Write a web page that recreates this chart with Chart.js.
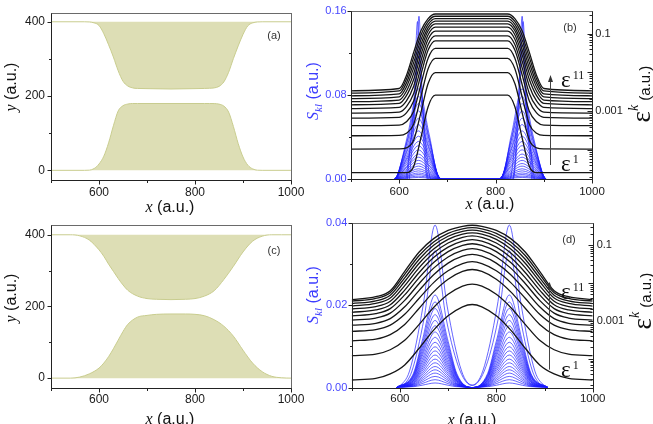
<!DOCTYPE html>
<html><head><meta charset="utf-8">
<script src="https://cdn.jsdelivr.net/npm/chart.js@4.4.1/dist/chart.umd.min.js"></script>
<style>
html,body{margin:0;padding:0;background:#fff;width:653px;height:424px;overflow:hidden;position:relative;}
canvas{position:absolute;}
.lbl{position:absolute;white-space:nowrap;line-height:1;font-family:"Liberation Sans",Arial,sans-serif;color:#111;transform:translate(-50%,-50%);}
.rot{transform:translate(-50%,-50%) rotate(-90deg);}
.it{font-family:"Liberation Serif","Times New Roman",serif;font-style:italic;}
.ser{font-family:"Liberation Serif","Times New Roman",serif;}
.eps{position:absolute;white-space:nowrap;line-height:1;font-family:"Liberation Serif","Times New Roman",serif;font-size:23px;color:#111;}
.eps .sp{position:relative;top:-8px;font-size:12px;margin-left:2px;}
.pl{font-size:11px;color:#333;}
</style></head><body>
<canvas id="ca" width="320" height="212" style="left:0;top:0"></canvas>
<canvas id="cb" width="333" height="212" style="left:320px;top:0"></canvas>
<canvas id="cc" width="320" height="212" style="left:0;top:212px"></canvas>
<canvas id="cd" width="333" height="212" style="left:320px;top:212px"></canvas>

<div class="lbl rot" style="left:11px;top:87px;font-size:16px"><span class="it">y</span> (a.u.)</div>
<div class="lbl rot" style="left:11px;top:298px;font-size:16px"><span class="it">y</span> (a.u.)</div>
<div class="lbl" style="left:170px;top:207px;font-size:16px"><span class="it">x</span> (a.u.)</div>
<div class="lbl" style="left:490px;top:204px;font-size:16px"><span class="it">x</span> (a.u.)</div>
<div class="lbl" style="left:170px;top:419px;font-size:16px"><span class="it">x</span> (a.u.)</div>
<div class="lbl" style="left:472px;top:420px;font-size:16px"><span class="it">x</span> (a.u.)</div>
<div class="lbl rot" style="left:313px;top:91px;font-size:16px;color:#3c3cff"><span class="it">S</span><span class="it" style="font-size:11px;position:relative;top:4px">kl</span> (a.u.)</div>
<div class="lbl rot" style="left:313px;top:295px;font-size:16px;color:#3c3cff"><span class="it">S</span><span class="it" style="font-size:11px;position:relative;top:4px">kl</span> (a.u.)</div>
<div class="lbl rot" style="left:641px;top:94px;font-size:15px"><span class="ser" style="font-size:27px">ε</span><span class="it" style="font-size:14px;position:relative;top:-12px">k</span> (a.u.)</div>
<div class="lbl rot" style="left:642px;top:301px;font-size:15px"><span class="ser" style="font-size:27px">ε</span><span class="it" style="font-size:14px;position:relative;top:-12px">k</span> (a.u.)</div>
<div class="lbl pl" style="left:274px;top:35px">(a)</div>
<div class="lbl pl" style="left:570px;top:27px">(b)</div>
<div class="lbl pl" style="left:274px;top:250px">(c)</div>
<div class="lbl pl" style="left:569px;top:239px">(d)</div>
<div class="eps" style="left:561px;top:68px">ε<span class="sp">11</span></div>
<div class="eps" style="left:561px;top:152px">ε<span class="sp">1</span></div>
<div class="eps" style="left:561px;top:280px">ε<span class="sp">11</span></div>
<div class="eps" style="left:561px;top:358px">ε<span class="sp">1</span></div>

<script>
// ---------- tick values ----------
const X_MAJOR = [600, 800, 1000];
const X_MINOR = [500, 700, 900];
const Y_CH_MAJOR = [0, 200, 400];
const Y_CH_MINOR = [100, 300];
const S_B_MAJOR = [0, 0.08, 0.16];
const S_B_MINOR = [0.04, 0.12];
const S_D_MAJOR = [0, 0.02, 0.04];
const S_D_MINOR = [0.01, 0.03];
const EPS_LABELED = [0.001, 0.1];

// ---------- channel geometry (a) ----------
const chanA_x = [500,570,580,590,600,610,620,630,640,650,660,670,680,700,750,800,820,830,840,850,860,870,880,890,900,910,920,930,940,1000];
const chanA_upper = [400,400,399.5,397,390,368,338,305,268,240,227,222,220.5,220,219,220,220.5,221,222,226,238,264,301,335,366,389,397,399.5,400,400];
const chanA_lower = [0,0,0.5,5,17,38,74,120,160,174,178.5,180,180,180,180,180,180,180,179.8,178.3,173,157,118,72,36,14,4,0.4,0,0];

// ---------- channel geometry (c) ----------
const chanC_x = [500,540,560,580,600,610,620,630,640,650,660,680,700,720,750,780,800,820,840,860,880,900,920,940,960,980,1000];
const chanC_upper = [400,400,397,385,358,340,318,298,278,260,245,229,222,220,219,220,222,229,244,275,312,352,382,396,400,400,400];
const chanC_lower = [0,0,3,12,28,42,60,82,106,130,150,170,175,178,179,179,178,174,163,145,117,78,42,18,5,1,0];

// ---------- eps^k curves (b), log10 values ----------
const epsB_x = [500,600,615,630,645,660,675,825,840,855,870,885,900,1000];
const epsB_log10 = [
[-2.476,-2.417,-2.080,-1.487,-0.932,-0.616,-0.497,-0.497,-0.616,-0.932,-1.487,-2.080,-2.417,-2.476],
[-2.535,-2.481,-2.173,-1.615,-1.046,-0.690,-0.556,-0.556,-0.690,-1.046,-1.615,-2.173,-2.481,-2.535],
[-2.605,-2.555,-2.273,-1.751,-1.164,-0.767,-0.618,-0.618,-0.767,-1.164,-1.751,-2.273,-2.555,-2.605],
[-2.677,-2.632,-2.378,-1.889,-1.286,-0.848,-0.683,-0.683,-0.848,-1.286,-1.889,-2.378,-2.632,-2.677],
[-2.755,-2.715,-2.488,-2.033,-1.412,-0.930,-0.750,-0.750,-0.930,-1.412,-2.033,-2.488,-2.715,-2.755],
[-2.837,-2.802,-2.603,-2.187,-1.552,-1.032,-0.837,-0.837,-1.032,-1.552,-2.187,-2.603,-2.802,-2.837],
[-2.935,-2.905,-2.736,-2.357,-1.709,-1.150,-0.941,-0.941,-1.150,-1.709,-2.357,-2.736,-2.905,-2.935],
[-3.052,-3.027,-2.886,-2.544,-1.881,-1.283,-1.059,-1.059,-1.283,-1.881,-2.544,-2.886,-3.027,-3.052],
[-3.180,-3.160,-3.047,-2.742,-2.064,-1.427,-1.188,-1.188,-1.427,-2.064,-2.742,-3.047,-3.160,-3.180],
[-3.374,-3.359,-3.274,-3.005,-2.313,-1.636,-1.382,-1.382,-1.636,-2.313,-3.005,-3.274,-3.359,-3.374],
[-3.635,-3.625,-3.569,-3.336,-2.628,-1.909,-1.640,-1.640,-1.909,-2.628,-3.336,-3.569,-3.625,-3.635],
[-3.980,-3.975,-3.946,-3.753,-3.037,-2.287,-2.006,-2.006,-2.287,-3.037,-3.753,-3.946,-3.975,-3.980],
[-4.587,-4.587,-4.587,-4.427,-3.687,-2.887,-2.590,-2.590,-2.887,-3.687,-4.427,-4.587,-4.587,-4.587]
];

// ---------- eps^k curves (d), log10 values ----------
const epsD_x = [500,550,580,610,640,670,700,730,750,770,800,830,860,890,920,950,1000];
const epsD_log10 = [
[-2.441,-2.363,-2.206,-1.695,-1.185,-0.832,-0.616,-0.508,-0.479,-0.508,-0.616,-0.832,-1.185,-1.695,-2.206,-2.363,-2.441],
[-2.482,-2.408,-2.256,-1.775,-1.277,-0.919,-0.693,-0.575,-0.544,-0.575,-0.693,-0.919,-1.277,-1.775,-2.256,-2.408,-2.482],
[-2.544,-2.473,-2.325,-1.866,-1.376,-1.008,-0.769,-0.642,-0.608,-0.642,-0.769,-1.008,-1.376,-1.866,-2.325,-2.473,-2.544],
[-2.610,-2.542,-2.398,-1.963,-1.480,-1.104,-0.853,-0.715,-0.679,-0.715,-0.853,-1.104,-1.480,-1.963,-2.398,-2.542,-2.610],
[-2.687,-2.623,-2.482,-2.071,-1.596,-1.211,-0.948,-0.801,-0.762,-0.801,-0.948,-1.211,-1.596,-2.071,-2.482,-2.623,-2.687],
[-2.774,-2.713,-2.576,-2.190,-1.724,-1.331,-1.057,-0.900,-0.859,-0.900,-1.057,-1.331,-1.724,-2.190,-2.576,-2.713,-2.774],
[-2.867,-2.810,-2.677,-2.316,-1.860,-1.461,-1.176,-1.010,-0.967,-1.010,-1.176,-1.461,-1.860,-2.316,-2.677,-2.810,-2.867],
[-2.979,-2.926,-2.797,-2.461,-2.015,-1.610,-1.315,-1.140,-1.095,-1.140,-1.315,-1.610,-2.015,-2.461,-2.797,-2.926,-2.979],
[-3.115,-3.065,-2.941,-2.630,-2.195,-1.784,-1.479,-1.296,-1.249,-1.296,-1.479,-1.784,-2.195,-2.630,-2.941,-3.065,-3.115],
[-3.277,-3.231,-3.112,-2.827,-2.405,-1.992,-1.680,-1.489,-1.441,-1.489,-1.680,-1.992,-2.405,-2.827,-3.112,-3.231,-3.277],
[-3.526,-3.482,-3.363,-3.094,-2.667,-2.235,-1.903,-1.698,-1.646,-1.698,-1.903,-2.235,-2.667,-3.094,-3.363,-3.482,-3.526],
[-3.918,-3.877,-3.761,-3.512,-3.091,-2.648,-2.301,-2.085,-2.031,-2.085,-2.301,-2.648,-3.091,-3.512,-3.761,-3.877,-3.918],
[-4.559,-4.519,-4.400,-4.161,-3.723,-3.246,-2.868,-2.629,-2.569,-2.629,-2.868,-3.246,-3.723,-4.161,-4.400,-4.519,-4.559]
];

// ---------- S_kl curves (b) : [x, S] ----------
const skB = [
[[621,0],[634,.078],[641,.155],[648,.078],[661,0],[835,0],[848,.078],[855,.155],[862,.078],[875,0]],
[[617,0],[630.5,.075],[638,.150],[645.5,.075],[659,0],[836,0],[849.5,.075],[857,.150],[864.5,.075],[878,0]],
[[614,0],[630,.061],[640,.122],[650,.061],[666,0],[829,0],[845,.061],[855,.122],[865,.061],[881,0]],
[[596,0],[618,.043],[640,.086],[662,.043],[684,0],[811,0],[833,.043],[855,.086],[877,.043],[899,0]],
[[595,0],[618,.0395],[640,.079],[662,.0395],[685,0],[810,0],[833,.0395],[855,.079],[877,.0395],[900,0]],
[[594,0],[617,.036],[640,.072],[663,.036],[686,0],[809,0],[832,.036],[855,.072],[878,.036],[901,0]],
[[594,0],[617,.0325],[640,.065],[663,.0325],[686,0],[809,0],[832,.0325],[855,.065],[878,.0325],[901,0]],
[[593,0],[617,.029],[640,.058],[663,.029],[687,0],[808,0],[832,.029],[855,.058],[878,.029],[902,0]],
[[593,0],[616,.026],[640,.052],[664,.026],[687,0],[808,0],[831,.026],[855,.052],[879,.026],[902,0]],
[[592,0],[616,.023],[640,.046],[664,.023],[688,0],[807,0],[831,.023],[855,.046],[879,.023],[903,0]],
[[592,0],[616,.0205],[640,.041],[664,.0205],[688,0],[807,0],[831,.0205],[855,.041],[879,.0205],[903,0]],
[[591,0],[615,.018],[640,.036],[665,.018],[689,0],[806,0],[830,.018],[855,.036],[880,.018],[904,0]],
[[591,0],[615,.016],[640,.032],[665,.016],[689,0],[806,0],[830,.016],[855,.032],[880,.016],[904,0]],
[[590,0],[615,.014],[640,.028],[665,.014],[690,0],[805,0],[830,.014],[855,.028],[880,.014],[905,0]],
[[590,0],[615,.012],[640,.024],[665,.012],[690,0],[805,0],[830,.012],[855,.024],[880,.012],[905,0]],
[[590,0],[614,.0105],[640,.021],[666,.0105],[690,0],[805,0],[829,.0105],[855,.021],[881,.0105],[905,0]],
[[590,0],[614,.009],[640,.018],[666,.009],[690,0],[805,0],[829,.009],[855,.018],[881,.009],[905,0]],
[[590,0],[614,.0075],[640,.015],[666,.0075],[690,0],[805,0],[829,.0075],[855,.015],[881,.0075],[905,0]],
[[590,0],[614,.00625],[640,.0125],[666,.00625],[690,0],[805,0],[829,.00625],[855,.0125],[881,.00625],[905,0]],
[[590,0],[614,.005],[640,.010],[666,.005],[690,0],[805,0],[829,.005],[855,.010],[881,.005],[905,0]],
[[590,0],[614,.004],[640,.008],[666,.004],[690,0],[805,0],[829,.004],[855,.008],[881,.004],[905,0]],
[[590,0],[614,.003],[640,.006],[666,.003],[690,0],[805,0],[829,.003],[855,.006],[881,.003],[905,0]],
[[590,0],[614,.00225],[640,.0045],[666,.00225],[690,0],[805,0],[829,.00225],[855,.0045],[881,.00225],[905,0]],
[[590,0],[614,.0015],[640,.003],[666,.0015],[690,0],[805,0],[829,.0015],[855,.003],[881,.0015],[905,0]],
[[590,0],[614,.0009],[640,.0018],[666,.0009],[690,0],[805,0],[829,.0009],[855,.0018],[881,.0009],[905,0]]
];

// ---------- S_kl curves (d) : [x, S] ----------
const skD = [
[[598,0],[620,.004],[648,.0198],[673,.0395],[698,.0198],[728,.004],[750,.0006],[772,.004],[802,.0198],[827,.0395],[852,.0198],[880,.004],[902,0]],
[[605,0],[625,.004],[650,.0167],[673,.0333],[696,.0167],[725,.004],[750,.0005],[775,.004],[804,.0167],[827,.0333],[850,.0167],[875,.004],[895,0]],
[[593,0],[628,.0034],[646,.01125],[673,.0225],[700,.01125],[718,.0034],[748,0],[752,0],[782,.0034],[800,.01125],[827,.0225],[854,.01125],[872,.0034],[907,0]],
[[593,0],[628,.0031],[646,.0104],[673,.0208],[700,.0104],[718,.0031],[748,0],[752,0],[782,.0031],[800,.0104],[827,.0208],[854,.0104],[872,.0031],[907,0]],
[[593,0],[628,.0029],[646,.0096],[673,.0192],[700,.0096],[718,.0029],[748,0],[752,0],[782,.0029],[800,.0096],[827,.0192],[854,.0096],[872,.0029],[907,0]],
[[593,0],[628,.00265],[646,.00885],[673,.0177],[700,.00885],[718,.00265],[748,0],[752,0],[782,.00265],[800,.00885],[827,.0177],[854,.00885],[872,.00265],[907,0]],
[[593,0],[628,.00245],[646,.00815],[673,.0163],[700,.00815],[718,.00245],[748,0],[752,0],[782,.00245],[800,.00815],[827,.0163],[854,.00815],[872,.00245],[907,0]],
[[593,0],[628,.00225],[646,.0075],[673,.0150],[700,.0075],[718,.00225],[748,0],[752,0],[782,.00225],[800,.0075],[827,.0150],[854,.0075],[872,.00225],[907,0]],
[[593,0],[628,.002],[646,.00675],[673,.0135],[700,.00675],[718,.002],[748,0],[752,0],[782,.002],[800,.00675],[827,.0135],[854,.00675],[872,.002],[907,0]],
[[593,0],[628,.0018],[646,.0061],[673,.0122],[700,.0061],[718,.0018],[748,0],[752,0],[782,.0018],[800,.0061],[827,.0122],[854,.0061],[872,.0018],[907,0]],
[[593,0],[628,.00165],[646,.0055],[673,.0110],[700,.0055],[718,.00165],[748,0],[752,0],[782,.00165],[800,.0055],[827,.0110],[854,.0055],[872,.00165],[907,0]],
[[593,0],[628,.0015],[646,.00495],[673,.0099],[700,.00495],[718,.0015],[748,0],[752,0],[782,.0015],[800,.00495],[827,.0099],[854,.00495],[872,.0015],[907,0]],
[[593,0],[628,.0013],[646,.00445],[673,.0089],[700,.00445],[718,.0013],[748,0],[752,0],[782,.0013],[800,.00445],[827,.0089],[854,.00445],[872,.0013],[907,0]],
[[593,0],[628,.0012],[646,.00395],[673,.0079],[700,.00395],[718,.0012],[748,0],[752,0],[782,.0012],[800,.00395],[827,.0079],[854,.00395],[872,.0012],[907,0]],
[[593,0],[628,.001],[646,.00345],[673,.0069],[700,.00345],[718,.001],[748,0],[752,0],[782,.001],[800,.00345],[827,.0069],[854,.00345],[872,.001],[907,0]],
[[593,0],[628,.0009],[646,.003],[673,.0060],[700,.003],[718,.0009],[748,0],[752,0],[782,.0009],[800,.003],[827,.0060],[854,.003],[872,.0009],[907,0]],
[[593,0],[628,.00077],[646,.00255],[673,.0051],[700,.00255],[718,.00077],[748,0],[752,0],[782,.00077],[800,.00255],[827,.0051],[854,.00255],[872,.00077],[907,0]],
[[593,0],[628,.00065],[646,.00215],[673,.0043],[700,.00215],[718,.00065],[748,0],[752,0],[782,.00065],[800,.00215],[827,.0043],[854,.00215],[872,.00065],[907,0]],
[[593,0],[628,.00052],[646,.00175],[673,.0035],[700,.00175],[718,.00052],[748,0],[752,0],[782,.00052],[800,.00175],[827,.0035],[854,.00175],[872,.00052],[907,0]],
[[593,0],[628,.0004],[646,.00135],[673,.0027],[700,.00135],[718,.0004],[748,0],[752,0],[782,.0004],[800,.00135],[827,.0027],[854,.00135],[872,.0004],[907,0]],
[[593,0],[628,.00029],[646,.00095],[673,.0019],[700,.00095],[718,.00029],[748,0],[752,0],[782,.00029],[800,.00095],[827,.0019],[854,.00095],[872,.00029],[907,0]],
[[593,0],[628,.00017],[646,.00055],[673,.0011],[700,.00055],[718,.00017],[748,0],[752,0],[782,.00017],[800,.00055],[827,.0011],[854,.00055],[872,.00017],[907,0]]
];

// ---------- rendering ----------
const FONT = "'Liberation Sans', Arial, sans-serif";
const FILL = 'rgb(221,222,181)';
const EDGE = 'rgb(201,205,143)';
const BLUE = 'rgba(28,28,255,0.85)';
const EPS_MIN = 1.75e-5, EPS_MAX = 0.38;

const logMajor = [], logMinor = [];
for (let k = -5; k <= 0; k++) for (let m = 1; m <= 9; m++) {
  const v = m * Math.pow(10, k);
  if (v < EPS_MIN || v > EPS_MAX) continue;
  (m === 1 ? logMajor : logMinor).push(v);
}

function pts(xs, ys) { return xs.map((x, i) => [x, ys[i]]); }
function logPts(xs, ls) { return xs.map((x, i) => [x, Math.pow(10, ls[i])]); }

const decor = {
  id: 'decor',
  afterDatasetsDraw(chart, args, o) {
    const ctx = chart.ctx, a = chart.chartArea, s = chart.scales;
    const L = Math.round(a.left) + 0.5, R = Math.round(a.right) + 0.5, T = Math.round(a.top) + 0.5, B = Math.round(a.bottom) + 0.5;
    ctx.save();
    ctx.lineWidth = 1;
    ctx.strokeStyle = '#6a6a6a';
    ctx.strokeRect(L, T, R - L, B - T);
    ctx.strokeStyle = '#222';
    ctx.beginPath(); ctx.moveTo(L, T); ctx.lineTo(L, B); ctx.lineTo(R, B);
    if (o.rightAxis) ctx.lineTo(R, T);
    ctx.stroke();
    (o.marks || []).forEach(m => {
      const sc = s[m.scale];
      m.values.forEach(v => {
        const p = Math.round(sc.getPixelForValue(v)) + 0.5;
        ctx.beginPath();
        if (m.side === 'bottom') { ctx.moveTo(p, B); ctx.lineTo(p, B + m.len); }
        else if (m.side === 'left') { ctx.moveTo(L, p); ctx.lineTo(L - m.len, p); }
        else { ctx.moveTo(R, p); ctx.lineTo(R + m.len, p); }
        ctx.stroke();
      });
    });
    if (o.arrow) {
      const px = Math.round(s.x.getPixelForValue(o.arrow.x)) + 0.5;
      const p0 = s.y.getPixelForValue(o.arrow.y0), p1 = s.y.getPixelForValue(o.arrow.y1);
      ctx.strokeStyle = '#444'; ctx.fillStyle = '#333';
      ctx.beginPath(); ctx.moveTo(px, p0); ctx.lineTo(px, p1 + 4); ctx.stroke();
      ctx.beginPath(); ctx.moveTo(px, p1); ctx.lineTo(px - 2.5, p1 + 7); ctx.lineTo(px + 2.5, p1 + 7); ctx.closePath(); ctx.fill();
    }
    ctx.restore();
  }
};

const NOGRID = { display: false, drawTicks: false, tickLength: 0 };

function xScale(pad, h, size) {
  return {
    type: 'linear', min: 500, max: 1000, position: 'bottom',
    grid: NOGRID, border: { display: false },
    afterBuildTicks: sc => { sc.ticks = X_MAJOR.map(v => ({ value: v })); },
    ticks: { padding: pad, autoSkip: false, maxRotation: 0, color: '#1a1a1a', font: { family: FONT, size: size }, callback: v => String(v) },
    afterFit: sc => { sc.height = h; }
  };
}

function channelChart(id, xs, up, lo, yMin, yMax, topPad, xH, xPad) {
  new Chart(document.getElementById(id), {
    type: 'line',
    data: { datasets: [
      { data: pts(xs, up), fill: { value: 400 }, backgroundColor: FILL, borderColor: EDGE, borderWidth: 1, pointRadius: 0, cubicInterpolationMode: 'monotone' },
      { data: pts(xs, lo), fill: 'origin', backgroundColor: FILL, borderColor: EDGE, borderWidth: 1, pointRadius: 0, cubicInterpolationMode: 'monotone' }
    ] },
    options: {
      responsive: false, animation: false, devicePixelRatio: 1, events: [],
      layout: { padding: { top: topPad, right: 29, bottom: 0, left: 0 } },
      plugins: { legend: { display: false }, tooltip: { enabled: false },
        decor: { marks: [
          { scale: 'x', side: 'bottom', values: X_MAJOR, len: 4 },
          { scale: 'x', side: 'bottom', values: X_MINOR, len: 2.5 },
          { scale: 'y', side: 'left', values: Y_CH_MAJOR, len: 4 },
          { scale: 'y', side: 'left', values: Y_CH_MINOR, len: 2.5 }
        ] } },
      scales: {
        x: xScale(xPad, xH, 12),
        y: { type: 'linear', min: yMin, max: yMax, position: 'left',
          grid: NOGRID, border: { display: false },
          afterBuildTicks: sc => { sc.ticks = Y_CH_MAJOR.map(v => ({ value: v })); },
          ticks: { padding: 6, color: '#1a1a1a', font: { family: FONT, size: 12 }, callback: v => String(v) },
          afterFit: sc => { sc.width = 51; } }
      }
    },
    plugins: [decor]
  });
}

function spectralChart(id, blue, bx, blogs, sMax, sMajor, sMinor, g, arrow) {
  const ds = [];
  blogs.forEach(l => ds.push({ data: logPts(bx, l), yAxisID: 'yR', borderColor: '#161616', borderWidth: 1.3, pointRadius: 0, fill: false, cubicInterpolationMode: 'monotone' }));
  blue.forEach(c => ds.push({ data: c, yAxisID: 'y', borderColor: BLUE, borderWidth: 0.8, pointRadius: 0, fill: false, cubicInterpolationMode: 'monotone' }));
  new Chart(document.getElementById(id), {
    type: 'line',
    data: { datasets: ds },
    options: {
      responsive: false, animation: false, devicePixelRatio: 1, events: [],
      layout: { padding: { top: g.top, right: 0, bottom: 0, left: 0 } },
      plugins: { legend: { display: false }, tooltip: { enabled: false },
        decor: { rightAxis: true, arrow: arrow, marks: [
          { scale: 'x', side: 'bottom', values: X_MAJOR, len: 4 },
          { scale: 'x', side: 'bottom', values: X_MINOR, len: 2.5 },
          { scale: 'y', side: 'left', values: sMajor, len: 4 },
          { scale: 'y', side: 'left', values: sMinor, len: 2.5 },
          { scale: 'yR', side: 'right', values: logMajor, len: -5 },
          { scale: 'yR', side: 'right', values: logMinor, len: -3 }
        ] } },
      scales: {
        x: xScale(g.xPad, g.xH, 11.5),
        y: { type: 'linear', min: 0, max: sMax, position: 'left',
          grid: NOGRID, border: { display: false },
          afterBuildTicks: sc => { sc.ticks = sMajor.map(v => ({ value: v })); },
          ticks: { padding: g.lPad, color: '#4747ff', font: { family: FONT, size: 11 }, callback: v => v.toFixed(2) },
          afterFit: sc => { sc.width = g.lw; } },
        yR: { type: 'logarithmic', min: EPS_MIN, max: EPS_MAX, position: 'right',
          grid: NOGRID, border: { display: false },
          afterBuildTicks: sc => { sc.ticks = EPS_LABELED.map(v => ({ value: v })); },
          ticks: { padding: g.rPad, color: '#1a1a1a', font: { family: FONT, size: 11 }, callback: v => String(v) },
          afterFit: sc => { sc.width = g.rw; } }
      }
    },
    plugins: [decor]
  });
}

channelChart('ca', chanA_x, chanA_upper, chanA_lower, -26, 423.1, 12.7, 32, 5);
channelChart('cc', chanC_x, chanC_upper, chanC_lower, -26.7, 426.7, 6, 36.3, 4.4);
spectralChart('cb', skB, epsB_x, epsB_log10, 0.16, S_B_MAJOR, S_B_MINOR,
  { top: 11, xH: 32.7, xPad: 5.5, lw: 31, rw: 61, lPad: 4.3, rPad: 3.3 },
  { x: 913, y0: 0.0136, y1: 0.0992 });
spectralChart('cd', skD, epsD_x, epsD_log10, 0.04, S_D_MAJOR, S_D_MINOR,
  { top: 6.7, xH: 36.5, xPad: 4.2, lw: 31.7, rw: 60.3, lPad: 4.4, rPad: 4 },
  { x: 909, y0: 0.00435, y1: 0.0257 });
</script>
</body></html>
